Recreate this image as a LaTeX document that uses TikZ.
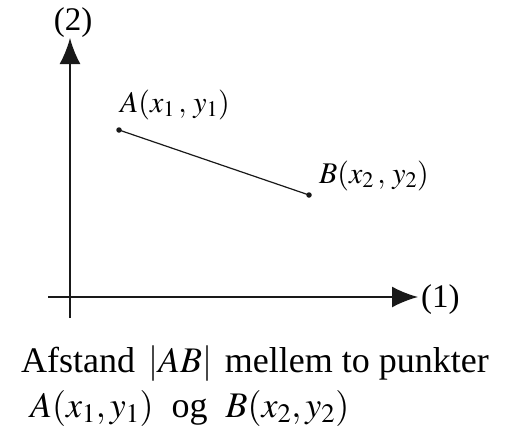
\documentclass[tikz,border=0pt]{standalone}
\usepackage{mathptmx}
\usepackage{fontspec}
\setmainfont{Liberation Serif}
\usetikzlibrary{arrows.meta,positioning,calc}
\definecolor{inkDark}{RGB}{25, 25, 25}

\begin{document}
\begin{tikzpicture}[x=1pt, y=-1pt,
    axisLine/.style={draw=inkDark, line width=1.8pt, -{Latex[length=26pt, width=21pt]}},
    segLine/.style={draw=inkDark, line width=1.2pt},
    ptDot/.style={circle, fill=inkDark, inner sep=0pt, minimum size=5.5pt},
    axisLabel/.style={font=\fontsize{33pt}{38pt}\selectfont, inner sep=0pt},
    ptLabel/.style={font=\fontsize{30pt}{36pt}\selectfont, inner sep=0pt},
    capText/.style={font=\fontsize{36pt}{42pt}\selectfont, inner sep=0pt}]
      \useasboundingbox (0,0) rectangle (521,439);

      % axes
      \coordinate (vBot) at (70,318);
      \coordinate (vTop) at (70,38);
      \coordinate (hLeft) at (48,297);
      \coordinate (hRight) at (418,297);
      \draw[axisLine] (vBot) -- (vTop);
      \draw[axisLine] (hLeft) -- (hRight);
      \node (lblTwo) [axisLabel, above=0pt of vTop, xshift=3pt] {(2)};
      \node (lblOne) [axisLabel, right=3pt of hRight, yshift=-3pt] {(1)};

      % the two points
      \node (ptA) [ptDot] at (119,130) {};
      \node (ptB) [ptDot] at (309,195) {};
      \draw[segLine] (ptA.center) -- (ptB.center);
      \node (lblA) [ptLabel, anchor=base] at (175,112) {$A(x_1\,,\,y_1)$};
      \node (lblB) [ptLabel, anchor=base] at (374,183) {$B(x_2\,,\,y_2)$};

      % caption
      \node (capOne) [capText, anchor=base] at (255,372) {Afstand $\,|AB|\,$ mellem to punkter};
      \node (capTwo) [capText, anchor=base west] at (30,417) {$A(x_1,y_1)$ \ og \ $B(x_2,y_2)$};
\end{tikzpicture}
\end{document}
